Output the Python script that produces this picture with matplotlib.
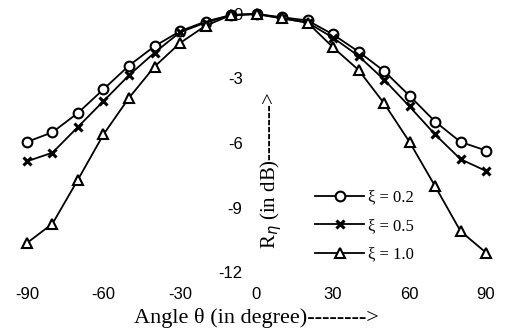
import matplotlib.pyplot as plt

plt.rcParams["axes.unicode_minus"] = False

# angle of incidence (degree)
angles = [-90, -80, -70, -60, -50, -40, -30, -20, -10, 0,
          10, 20, 30, 40, 50, 60, 70, 80, 90]

# R_eta in dB for each xi
r_xi02 = [-5.95, -5.5, -4.6, -3.5, -2.4, -1.5, -0.8, -0.35, -0.05, 0.0,
          -0.15, -0.3, -0.95, -1.75, -2.65, -3.8, -5.0, -5.95, -6.35]
r_xi05 = [-6.85, -6.45, -5.25, -4.05, -2.85, -1.8, -0.85, -0.4, -0.05, 0.0,
          -0.2, -0.4, -1.1, -1.95, -3.05, -4.3, -5.6, -6.75, -7.3]
r_xi10 = [-10.65, -9.75, -7.7, -5.6, -3.9, -2.45, -1.35, -0.55, -0.05, 0.0,
          -0.2, -0.4, -1.55, -2.6, -4.15, -5.95, -8.0, -10.1, -11.1]

labels = ["ξ = 0.2", "ξ = 0.5", "ξ = 1.0"]
yticks = [0, -3, -6, -9, -12]
xticks = [-90, -60, -30, 0, 30, 60, 90]

W, H = 509, 330
fig = plt.figure(figsize=(W / 100, H / 100), dpi=100)
ax = fig.add_axes([27 / W, 1 - 272 / H, 459 / W, 258 / H])

style = dict(color="black", lw=1.3, clip_on=False)
ax.plot(angles, r_xi02, marker="o", ms=7, mfc="white", mew=1.5, label=labels[0], **style)
ax.plot(angles, r_xi05, marker="x", ms=6, mew=2.2, label=labels[1], **style)
ax.plot(angles, r_xi10, marker="^", ms=7, mfc="white", mew=1.5, label=labels[2], **style)

ax.set_xlim(-90, 90)
ax.set_ylim(-12, 0)
for s in ax.spines.values():
    s.set_visible(False)
ax.spines["left"].set_position(("data", 0))

ax.set_xticks(xticks)
ax.set_yticks(yticks)
tick_font = dict(family="Liberation Sans", size=12)
ax.set_xticklabels([str(t) for t in xticks], **tick_font)
ax.set_yticklabels([str(t) for t in yticks], **tick_font)
ax.tick_params(axis="x", length=0, pad=11)
ax.tick_params(axis="y", length=0, pad=10)

ax.set_xlabel("Angle θ (in degree)-------->", va="center",
              family="Liberation Serif", size=16)
ax.xaxis.set_label_coords((256 - 27) / 459, (272 - 318) / 258)
ax.set_ylabel("R$_\\eta$ (in dB)-------->", va="center",
              family="Liberation Serif", size=15)
ax.yaxis.set_label_coords((271 - 27) / 459, (272 - 170) / 258)

ax.legend(loc="upper left", bbox_to_anchor=(307 / W, 1 - 181 / H),
          bbox_transform=fig.transFigure, frameon=False, borderpad=0,
          handlelength=2.9, handletextpad=0.25, labelspacing=0.75,
          prop=dict(family="Liberation Serif", size=12))

fig.savefig("out.png", dpi=100)
